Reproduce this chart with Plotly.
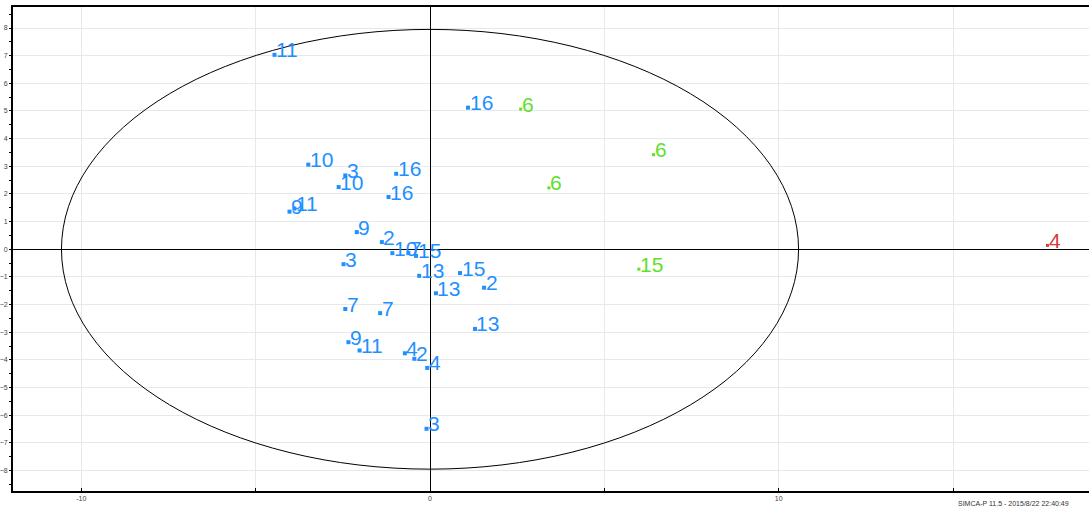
import plotly.graph_objects as go

# Score values t[1] / t[2] with observation labels, grouped by class
blue_x = [-4.46, 1.09, -3.49, -2.43, -2.62, -0.97, -1.19, -4.03, -3.89, -2.10,
          -1.38, -1.08, -0.62, -0.40, -2.48, -0.31, 0.86, 0.17, 1.55, -2.43,
          -1.43, 1.29, -2.34, -2.02, -0.72, -0.45, -0.08, -0.10]
blue_y = [7.03, 5.12, 3.06, 2.67, 2.25, 2.73, 1.89, 1.36, 1.47, 0.62,
          0.26, -0.14, -0.14, -0.24, -0.54, -0.96, -0.86, -1.59, -1.39, -2.16,
          -2.31, -2.88, -3.36, -3.66, -3.76, -3.96, -4.29, -6.49]
blue_lab = ["11", "16", "10", "3", "10", "16", "16", "9", "11", "9",
            "2", "10", "7", "15", "3", "13", "15", "13", "2", "7",
            "7", "13", "9", "11", "4", "2", "4", "3"]

green_x = [2.60, 6.41, 3.41, 5.99]
green_y = [5.07, 3.42, 2.22, -0.72]
green_lab = ["6", "6", "6", "15"]

red_x = [17.71]
red_y = [0.14]
red_lab = ["4"]

# Hotelling T2 ellipse semi-axes
ell_a = 10.57
ell_b = 7.95

BLUE = "#1E90FF"
GREEN = "#5FE02A"
RED = "#D93A3A"

groups = [
    (blue_x, blue_y, blue_lab, BLUE, 4),
    (green_x, green_y, green_lab, GREEN, 3),
    (red_x, red_y, red_lab, RED, 3),
]

fig = go.Figure()
annotations = []
for xs, ys, labs, col, msize in groups:
    fig.add_trace(go.Scatter(
        x=xs, y=ys, mode="markers",
        marker=dict(symbol="square", size=msize, color=col, line=dict(width=0)),
        hoverinfo="x+y+text", text=labs, showlegend=False,
    ))
    for xv, yv, lab in zip(xs, ys, labs):
        annotations.append(dict(
            x=xv, y=yv, xref="x", yref="y", text=lab, showarrow=False,
            xanchor="left", yanchor="middle", xshift=-0.5, yshift=5,
            font=dict(family="Liberation Sans, Arial, sans-serif", size=21, color=col),
        ))

annotations.append(dict(
    x=0.876, y=-0.026, xref="paper", yref="paper", xanchor="left", yanchor="middle",
    text="SIMCA-P 11.5 - 2015/8/22 22:40:49", showarrow=False,
    font=dict(family="Liberation Sans, Arial, sans-serif", size=7, color="#333333"),
))

fig.add_shape(type="circle", xref="x", yref="y",
              x0=-ell_a, x1=ell_a, y0=-ell_b, y1=ell_b,
              line=dict(color="black", width=1), layer="above")

fig.update_layout(
    width=1089, height=507,
    margin=dict(l=10, r=0, t=7, b=16),
    paper_bgcolor="white", plot_bgcolor="white",
    annotations=annotations,
    font=dict(family="Liberation Sans, Arial, sans-serif"),
)

fig.update_xaxes(
    range=[-11.96, 18.90], tickvals=[-10, 0, 10], ticktext=["-10", "0", "10"],
    showgrid=True, gridcolor="#e8e8e8", gridwidth=1,
    minor=dict(tickvals=[-10, -5, 0, 5, 10, 15], showgrid=True, gridcolor="#e8e8e8",
               ticks="inside", ticklen=3, tickcolor="black"),
    ticks="inside", ticklen=3, tickcolor="black",
    tickfont=dict(size=7, color="#444444"),
    zeroline=True, zerolinecolor="black", zerolinewidth=1,
    showline=True, linecolor="black", linewidth=2, mirror=True,
)
fig.update_yaxes(
    range=[-8.74, 8.76], dtick=1, tick0=0,
    showgrid=True, gridcolor="#e8e8e8", gridwidth=1,
    minor=dict(dtick=0.5, ticks="outside", ticklen=2, tickcolor="black", showgrid=False),
    ticks="outside", ticklen=2, tickcolor="black",
    tickfont=dict(size=7, color="#444444"),
    zeroline=True, zerolinecolor="black", zerolinewidth=1,
    showline=True, linecolor="black", linewidth=2, mirror=False,
)

fig.write_html("out.html")
